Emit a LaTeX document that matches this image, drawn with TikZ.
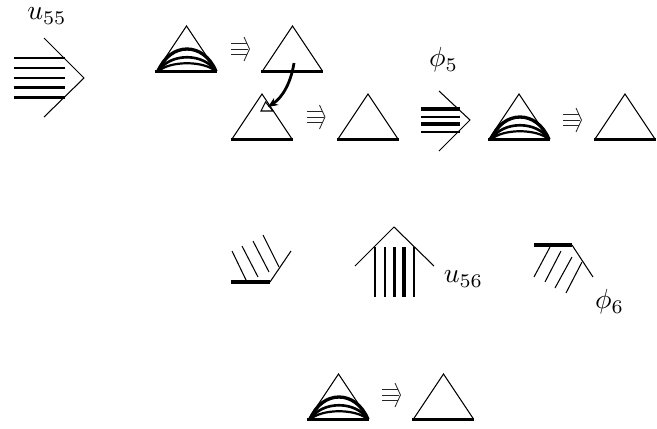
\documentclass[tikz,border=0pt]{standalone}
\usetikzlibrary{arrows.meta}
\tikzset{
  thinl/.style={line width=0.38pt,black},
  midl/.style={line width=0.7pt,black},
  thickl/.style={line width=1.1pt,black},
  impl/.style={line width=0.3pt,black!85},
  lbl/.style={inner sep=0pt,black}
}
% triangle: apex x, apex y
\newcommand{\Tri}[2]{%
  \begin{scope}[shift={(#1,#2)}]
    \draw[thinl] (-30,45) -- (0,0) -- (30,45);
    \draw[thickl] (-31,45.5) -- (31,45.5);
  \end{scope}}
\newcommand{\Arcs}[2]{%
  \begin{scope}[shift={(#1,#2)}]
    \draw[line width=1.2pt] (-29,45) .. controls (-17,15) and (17,15) .. (29,45);
    \draw[line width=0.95pt] (-29,45) .. controls (-17,26) and (17,26) .. (29,45);
    \draw[line width=0.8pt] (-29,45) .. controls (-17,34) and (17,34) .. (29,45);
  \end{scope}}
\newcommand{\Imp}[2]{%
  \begin{scope}[shift={(#1,#2)}]
    \draw[impl] (0,-5.5) -- (16,-5.5) (0,0) -- (17,0) (0,5.5) -- (16,5.5);
    \draw[impl] (12.5,-12) -- (18,0) -- (12.5,12);
  \end{scope}}
\begin{document}
\begin{tikzpicture}[x=0.3612pt,y=-0.3612pt]
\useasboundingbox (0,0) rectangle (657,429);
% u55
\node[lbl] (u55) at (47,16) {$u_{55}$};
\draw[thinl] (44,38) -- (84,78) -- (44,117);
\draw[midl] (14,58) -- (65,58);
\draw[midl] (14,68) -- (65,68);
\draw[midl] (14,78) -- (65,78);
\draw[thickl] (14,87.5) -- (65,87.5);
\draw[thickl] (14,97.5) -- (65,97.5);
% first row
\Tri{186.5}{26}\Arcs{187}{26.5}
\Imp{231.5}{49}
\Tri{292.5}{26}
% second row
\Tri{262}{94}
\Imp{307}{117}
\Tri{368}{94}
% small triangle and curved arrow
\coordinate (src) at (294,63);
\coordinate (dst) at (268,107);
\draw[thinl] (261,111) -- (265.5,102) -- (273,111) -- cycle;
\draw[line width=1pt,-{Stealth[length=3.6pt,width=3pt]}] (src) .. controls (291,82) and (283,97) .. (dst);
% phi5
\node[lbl] (p5) at (443.5,60) {$\phi_5$};
\draw[thinl] (439,91) -- (470,120) -- (439,151);
\draw[thickl] (421,109) -- (460,109);
\draw[midl] (421,117) -- (460,117);
\draw[thickl] (421,124) -- (460,124);
\draw[midl] (421,132) -- (460,132);
\Tri{519}{94}\Arcs{520}{94.5}
\Imp{563.5}{120}
\Tri{625}{94}
% hatch left
\draw[thickl] (231,282) -- (270,282);
\draw[thinl] (270,282) -- (291,251);
\draw[thinl] (232,251) -- (247,282);
\draw[thinl] (242,246) -- (258,277);
\draw[thinl] (253,241) -- (269,272);
\draw[thinl] (263,235) -- (279,267);
% u56
\draw[thinl] (355,266) -- (394,227) -- (434,266);
\draw[midl] (375,247) -- (375,297);
\draw[midl] (385,247) -- (385,297);
\draw[thickl] (394.5,247) -- (394.5,297);
\draw[thickl] (404,247) -- (404,297);
\draw[midl] (414,247) -- (414,297);
\node[lbl] (u56) at (463.5,279) {$u_{56}$};
% hatch right
\draw[thickl] (534,245) -- (572,245);
\draw[thinl] (572,245) -- (593,277);
\draw[thinl] (550,247) -- (534,277);
\draw[thinl] (561,251) -- (545,282);
\draw[thinl] (572,257) -- (555,288);
\draw[thinl] (582,262) -- (566,293);
\node[lbl] (p6) at (609.5,302) {$\phi_6$};
% bottom
\Tri{338.5}{374}\Arcs{339}{374.5}
\Imp{382.5}{395}
\Tri{443.5}{374}
\end{tikzpicture}
\end{document}
